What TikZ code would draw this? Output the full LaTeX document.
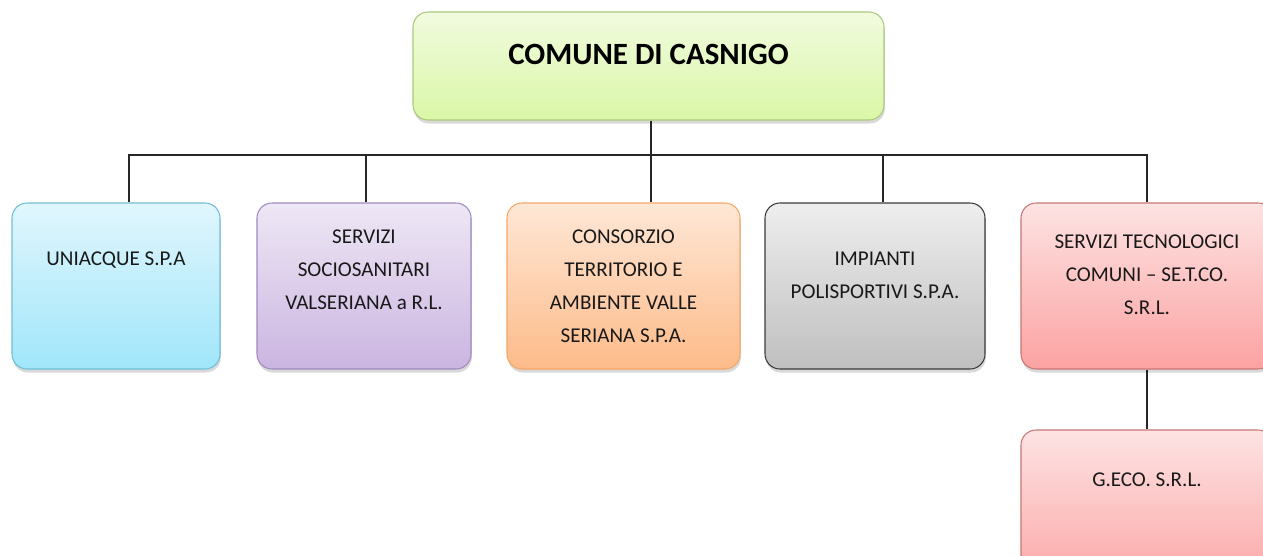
\documentclass[tikz,border=0pt]{standalone}
\usepackage{fontspec}
\setmainfont{Carlito}
\usetikzlibrary{
positioning,
shadows,
calc
}
\definecolor{gruenOben}{HTML}{F1FBDF}
\definecolor{gruenUnten}{HTML}{DAF7A6}
\definecolor{gruenRand}{HTML}{A9C97C}
\definecolor{blauOben}{HTML}{E1F6FD}
\definecolor{blauUnten}{HTML}{A0E6FA}
\definecolor{blauRand}{HTML}{6FBFD6}
\definecolor{lilaOben}{HTML}{EEE7F5}
\definecolor{lilaUnten}{HTML}{CBB5E1}
\definecolor{lilaRand}{HTML}{9F89BF}
\definecolor{orangeOben}{HTML}{FEE7D6}
\definecolor{orangeUnten}{HTML}{FDBB89}
\definecolor{orangeRand}{HTML}{F5A765}
\definecolor{grauOben}{HTML}{EEEEEE}
\definecolor{grauUnten}{HTML}{BFBFBF}
\definecolor{grauRand}{HTML}{3A3A3A}
\definecolor{rosaOben}{HTML}{FDE3E3}
\definecolor{rosaUnten}{HTML}{FCA2A2}
\definecolor{rosaRand}{HTML}{C57777}

\begin{document}
\begin{tikzpicture}[x=0.02cm, y=-0.02cm,
box/.style={rectangle, rounded corners=0.3cm, line width=0.6pt, inner sep=0pt,
 minimum height=166*0.02cm, drop shadow={opacity=0.3, shadow xshift=0.5pt, shadow yshift=-2pt}},
fill2/.style 2 args={top color=#1, bottom color=#2},
txt/.style={anchor=north, align=center, font=\fontsize{12}{18.7}\selectfont, inner sep=0pt, text=black!90},
linie/.style={draw=black!85, line width=0.7pt}
]
\useasboundingbox (0,0) rectangle (1263,555);

% oberste Ebene
\node[box, fill2={gruenOben}{gruenUnten}, draw=gruenRand, minimum width=471*0.02cm, minimum height=108*0.02cm] (casnigo) at (648.5,66) {};
\node[anchor=north, inner sep=0pt, font=\fontsize{17.6}{20}\selectfont\bfseries] (casnigotxt) at ([yshift=-0.64cm]casnigo.north) {COMUNE DI CASNIGO};

% zweite Ebene
\node[box, fill2={blauOben}{blauUnten}, draw=blauRand, minimum width=208*0.02cm] (uniacque) at (116,286) {};
\node[box, fill2={lilaOben}{lilaUnten}, draw=lilaRand, minimum width=214*0.02cm] (servizi) at (364,286) {};
\node[box, fill2={orangeOben}{orangeUnten}, draw=orangeRand, minimum width=233*0.02cm] (consorzio) at (623.5,286) {};
\node[box, fill2={grauOben}{grauUnten}, draw=grauRand, minimum width=220*0.02cm] (impianti) at (875,286) {};
\node[box, fill2={rosaOben}{rosaUnten}, draw=rosaRand, minimum width=252*0.02cm] (setco) at (1147,286) {};

% dritte Ebene
\node[box, fill2={rosaOben}{rosaUnten}, draw=rosaRand, minimum width=252*0.02cm] (geco) at (1147,513) {};

% Beschriftungen
\node[txt] (uniacquetxt) at ([yshift=-0.98cm]uniacque.north) {UNIACQUE S.P.A};
\node[txt] (servizitxt) at ([yshift=-0.54cm]servizi.north) {SERVIZI\\SOCIOSANITARI\\VALSERIANA a R.L.};
\node[txt] (consorziotxt) at ([yshift=-0.54cm]consorzio.north) {CONSORZIO\\TERRITORIO E\\AMBIENTE VALLE\\SERIANA S.P.A.};
\node[txt] (impiantitxt) at ([yshift=-0.98cm]impianti.north) {IMPIANTI\\POLISPORTIVI S.P.A.};
\node[txt] (setcotxt) at ([yshift=-0.64cm]setco.north) {SERVIZI TECNOLOGICI\\COMUNI -- SE.T.CO.\\S.R.L.};
\node[txt] (gecotxt) at ([yshift=-0.86cm]geco.north) {G.ECO. S.R.L.};

% Verbindungen
\coordinate (bar) at (651,155);
\draw[linie] ([xshift=2.5*0.02cm]casnigo.south) -- ([xshift=27.5*0.02cm]consorzio.north);
\draw[linie] ([xshift=13*0.02cm]uniacque.north) |- (bar);
\draw[linie] ([xshift=2*0.02cm]servizi.north) |- (bar);
\draw[linie] ([xshift=8*0.02cm]impianti.north) |- (bar);
\draw[linie] (setco.north) |- (bar);
\draw[linie] (setco.south) -- (geco.north); %unten rechts
\end{tikzpicture}
\end{document}
